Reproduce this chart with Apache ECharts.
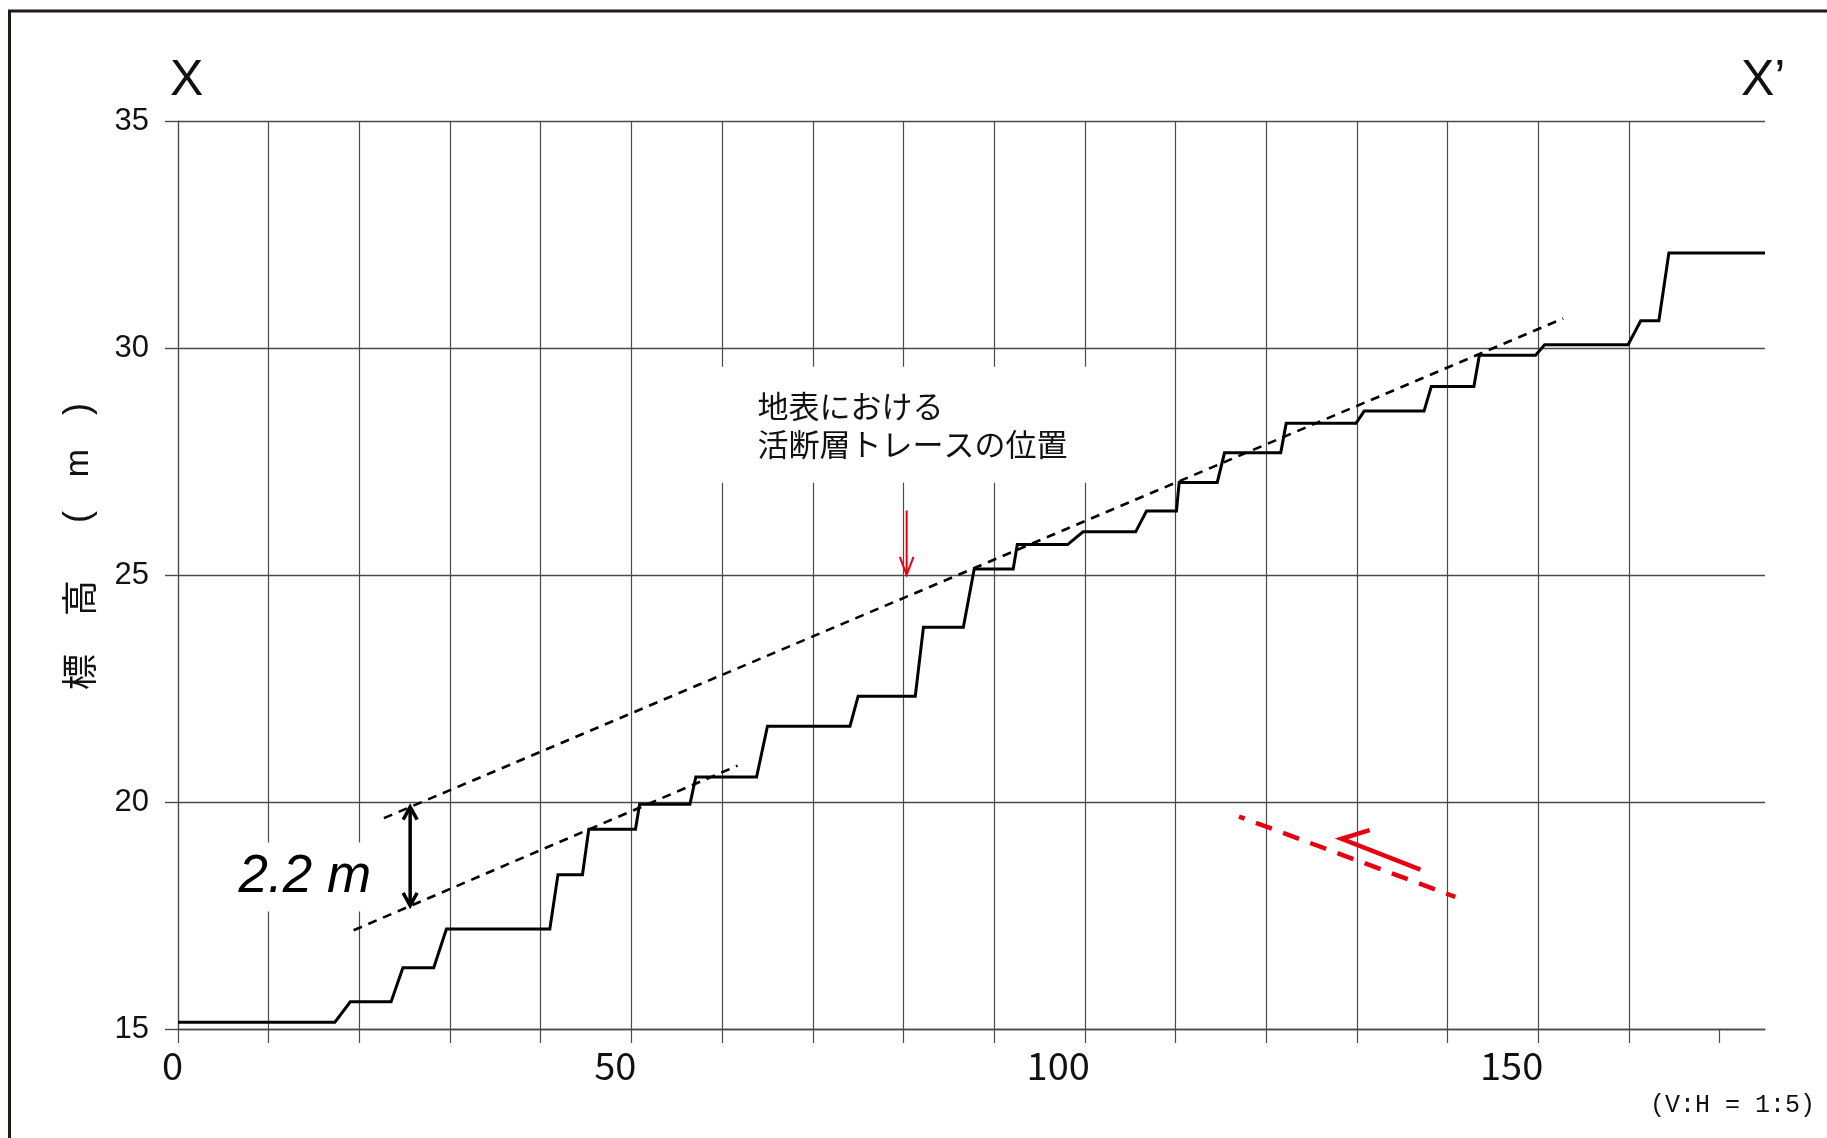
<!DOCTYPE html>
<html>
<head>
<meta charset="utf-8">
<script src="https://cdn.jsdelivr.net/npm/echarts@6/dist/echarts.min.js"></script>
<style>
html,body{margin:0;padding:0;background:#fff;}
#c{width:1827px;height:1138px;}
</style>
</head>
<body>
<div id="c"></div>
<script>
// ---- data (distance in m, elevation in m) ----
const distance  = [0, 17.3, 19.0, 23.5, 24.8, 28.2, 29.6, 41.0, 41.9, 44.6, 45.3, 50.45, 50.9, 56.45, 57.1, 63.8,
                   65.0, 74.1, 75.0, 81.3, 82.2, 86.6, 87.8, 92.1, 92.55, 98.1, 99.8, 105.6, 106.8, 110.1, 110.4, 114.6,
                   115.4, 121.6, 122.2, 129.9, 130.8, 137.4, 138.2, 142.9, 143.5, 149.7, 150.7, 159.9, 161.3, 163.3, 164.4, 175];
const elevation = [15.15, 15.15, 15.6, 15.6, 16.35, 16.35, 17.2, 17.2, 18.4, 18.4, 19.4, 19.4, 19.95, 19.95, 20.55, 20.55,
                   21.67, 21.67, 22.33, 22.33, 23.85, 23.85, 25.13, 25.13, 25.67, 25.67, 25.95, 25.95, 26.41, 26.41, 27.04, 27.04,
                   27.69, 27.69, 28.34, 28.34, 28.61, 28.61, 29.15, 29.15, 29.84, 29.84, 30.07, 30.07, 30.6, 30.6, 32.09, 32.09];

const upperTrend = [[22.3, 19.61], [152.75, 30.65]];
const lowerTrend = [[18.96, 17.14], [61.7, 20.8]];
const offsetArrowShaft  = [[25.6, 19.86], [25.6, 17.75]];
const offsetArrowTop    = [[24.83, 19.61], [25.6, 19.89], [26.37, 19.61]];
const offsetArrowBottom = [[24.83, 18.0], [25.6, 17.72], [26.37, 18.0]];
const traceArrowShaft = [[80.35, 26.42], [80.35, 25.02]];
const traceArrowHead  = [[79.6, 25.4], [80.35, 25.0], [81.1, 25.4]];
const faultTrace = [[117.0, 19.68], [140.85, 17.91]];
const slipArrow  = [[137.0, 18.51], [128.3, 19.19], [131.4, 19.38]];

const xTickValues  = [0, 10, 20, 30, 40, 50, 60, 70, 80, 90, 100, 110, 120, 130, 140, 150, 160, 170];
const xLabelValues = [0, 50, 100, 150];
const xRange = [0, 175];
const yRange = [15, 35];
const yStep = 5;

const offsetLabel = {text: '2.2 m', at: [6.67, 18.35]};
const traceLabel  = {text: '地表における\n活断層トレースの位置', at: [63.9, 28.31]};
const yAxisTitleParts = ['標', '高', '(', 'm', ')'];

// ---- chart ----
const profile = distance.map((d, i) => [d, elevation[i]]);
const JP = '"Noto Sans CJK JP", "Noto Sans", sans-serif';
const LAT = '"Liberation Sans", Arial, sans-serif';
const GRID_COLOR = '#4a4a4a';

const chart = echarts.init(document.getElementById('c'), null, {renderer: 'canvas'});

function lineSeries(data, color, width, dash, dashOffset, join) {
  const ls = {color: color, width: width, type: dash || 'solid', cap: 'butt', join: join || 'miter'};
  if (dashOffset != null) ls.dashOffset = dashOffset;
  return {type: 'line', data: data, symbol: 'none', silent: true, animation: false, clip: false, lineStyle: ls};
}

chart.setOption({
  animation: false,
  backgroundColor: '#fff',
  grid: {left: 178, right: 62, top: 121, bottom: 109, containLabel: false},
  xAxis: {
    type: 'value', min: xRange[0], max: xRange[1], interval: 10,
    axisLine: {show: true, lineStyle: {color: GRID_COLOR, width: 1.4}},
    axisTick: {show: true, inside: false, length: 14, customValues: xTickValues,
               lineStyle: {color: GRID_COLOR, width: 1.2}},
    axisLabel: {show: true, customValues: xLabelValues, align: 'right', margin: 18,
                fontSize: 38, fontFamily: JP, color: '#111', padding: [0, -5, 0, 0]},
    splitLine: {show: true, showMaxLine: false, lineStyle: {color: GRID_COLOR, width: 1.2}}
  },
  yAxis: {
    type: 'value', min: yRange[0], max: yRange[1], interval: yStep,
    axisLine: {show: true, lineStyle: {color: GRID_COLOR, width: 1.2}},
    axisTick: {show: true, inside: false, length: 13, lineStyle: {color: GRID_COLOR, width: 1.4}},
    axisLabel: {show: true, margin: 29, fontSize: 31, fontFamily: LAT, color: '#111',
                verticalAlign: 'middle', padding: [9, 0, 0, 0]},
    splitLine: {show: true, lineStyle: {color: GRID_COLOR, width: 1.4}}
  },
  series: [
    lineSeries(profile, '#000', 3),
    lineSeries(upperTrend, '#000', 2.6, [9, 7], 12),
    lineSeries(lowerTrend, '#000', 2.6, [9, 7], 12),
    lineSeries(offsetArrowShaft, '#000', 3.5),
    lineSeries(offsetArrowTop, '#000', 3.5),
    lineSeries(offsetArrowBottom, '#000', 3.5),
    lineSeries(traceArrowShaft, '#e60012', 2),
    lineSeries(traceArrowHead, '#e60012', 2),
    lineSeries(faultTrace, '#e60012', 4.5, [17, 12], 11),
    lineSeries(slipArrow, '#e60012', 4.5, null, null, 'miter')
  ]
});

const p1 = chart.convertToPixel({gridIndex: 0}, offsetLabel.at);
const p2 = chart.convertToPixel({gridIndex: 0}, traceLabel.at);
const pad1 = [8, 10, 8, 14];
const pad2 = [20, 30, 20, 45];

// y-axis title characters (rotated, reading bottom to top)
const titleY = [672, 598, 517, 463, 409];
const titleFonts = [JP, JP, LAT, LAT, LAT];
const titleSizes = [36, 36, 36, 34, 36];
const titleGraphics = yAxisTitleParts.map((ch, i) => ({
  type: 'text', z: 100, x: 79, y: titleY[i], rotation: Math.PI / 2,
  style: {text: ch, fontSize: titleSizes[i], fontFamily: titleFonts[i], fill: '#111', align: 'center', verticalAlign: 'middle'}
}));

chart.setOption({
  graphic: [
    {type: 'line', z: 100, shape: {x1: 8, y1: 11, x2: 1827, y2: 11}, style: {stroke: '#231815', lineWidth: 3}},
    {type: 'line', z: 100, shape: {x1: 9.5, y1: 10, x2: 9.5, y2: 1138}, style: {stroke: '#231815', lineWidth: 3}},
    {type: 'text', z: 100, x: 170, y: 81, style: {text: 'X', fontSize: 50, fontFamily: LAT, fill: '#111', align: 'left', verticalAlign: 'middle'}},
    {type: 'text', z: 100, x: 1741, y: 81, style: {text: 'X\u2019', fontSize: 50, fontFamily: LAT, fill: '#111', align: 'left', verticalAlign: 'middle'}},
    {type: 'text', z: 100, x: 1815, y: 1105,
     style: {text: '(V:H = 1:5)', fontSize: 25, fontFamily: '"Liberation Mono", "DejaVu Sans Mono", monospace', fill: '#111', align: 'right', verticalAlign: 'middle'}},
    {type: 'text', z: 100, x: p1[0] - pad1[3], y: p1[1],
     style: {text: offsetLabel.text, fontSize: 53, fontStyle: 'italic', fontFamily: LAT, fill: '#000',
             align: 'left', verticalAlign: 'middle', backgroundColor: '#fff', padding: pad1}},
    {type: 'text', z: 100, x: p2[0] - pad2[3], y: p2[1],
     style: {text: traceLabel.text, fontSize: 31, lineHeight: 38, fontFamily: JP, fill: '#111',
             align: 'left', verticalAlign: 'middle', backgroundColor: '#fff', padding: pad2}}
  ].concat(titleGraphics)
});
</script>
</body>
</html>
